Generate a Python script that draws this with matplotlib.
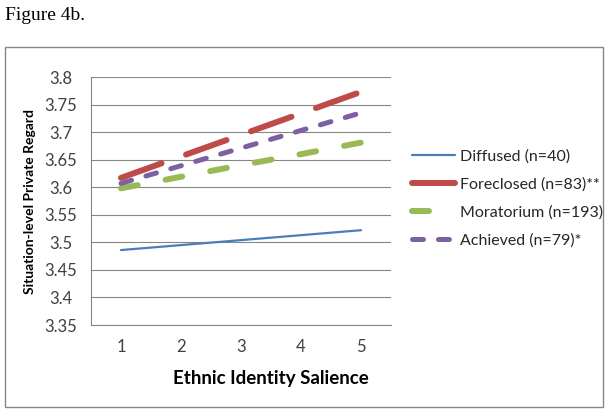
import matplotlib.pyplot as plt
from matplotlib.patches import Rectangle

# data
salience = [1, 2, 3, 4, 5]
diffused = [3.486, 3.495, 3.504, 3.513, 3.522]
foreclosed = [3.617, 3.656, 3.695, 3.734, 3.773]
moratorium = [3.598, 3.619, 3.640, 3.660, 3.681]
achieved = [3.607, 3.639, 3.671, 3.703, 3.735]
y_ticks = [3.35, 3.4, 3.45, 3.5, 3.55, 3.6, 3.65, 3.7, 3.75, 3.8]
y_tick_labels = ["3.35", "3.4", "3.45", "3.5", "3.55", "3.6", "3.65", "3.7", "3.75", "3.8"]

plt.rcParams['font.family'] = ['Lato', 'DejaVu Sans']
plt.rcParams['lines.scale_dashes'] = False

fig = plt.figure(figsize=(6.09, 4.11), dpi=100)

# chart border box
fig.patches.append(Rectangle((5 / 609, 1 - 407 / 411), 598 / 609, 360 / 411,
                             transform=fig.transFigure, fill=False,
                             edgecolor="#868686", linewidth=1.0))
fig.text(5 / 609, 1 - 15 / 411, "Figure 4b.", family="Liberation Serif",
         fontsize=14, va="center", ha="left")

ax = fig.add_axes([91 / 609, 1 - 325 / 411, 300 / 609, 248 / 411])

ax.plot(salience, diffused, color="#4A7EBB", linewidth=1.6,
        solid_capstyle="round", label="Diffused (n=40)")
ax.plot(salience, foreclosed, color="#BE4B48", linewidth=4.3,
        dash_capstyle="round", dashes=(31, 18.7), label="Foreclosed (n=83)**")
ax.plot(salience, moratorium, color="#98B954", linewidth=4.3,
        dash_capstyle="round", dashes=(12.2, 20.5), label="Moratorium (n=193)")
ax.plot(salience, achieved, color="#7D60A0", linewidth=3.6,
        dash_capstyle="round", dashes=(7.9, 10.8), label="Achieved (n=79)*")

ax.set_xlim(0.5, 5.5)
ax.set_ylim(3.35, 3.8)
ax.set_yticks(y_ticks)
ax.set_yticklabels(y_tick_labels, ha="center")
ax.set_xticks(salience)
ax.tick_params(length=0, labelsize=12, colors="#404040")
ax.tick_params(axis="y", pad=22)
ax.tick_params(axis="x", pad=10)

ax.grid(axis="y", color="#868686", linewidth=0.8)
ax.set_axisbelow(True)
for side in ["top", "right"]:
    ax.spines[side].set_visible(False)
for side in ["left", "bottom"]:
    ax.spines[side].set_color("#868686")
    ax.spines[side].set_linewidth(0.8)

ax.set_xlabel("Ethnic Identity Salience", fontsize=13.5, fontweight="bold",
              va="top")
ax.xaxis.set_label_coords(0.6, -0.18)
ax.set_ylabel("Situation-level Private Regard", fontsize=10, fontweight="bold")
ax.yaxis.set_label_coords(-0.183, 0.5)

ax.legend(loc="center left", bbox_to_anchor=(1.07, 0.51), frameon=False,
          fontsize=11.5, handlelength=2.7, handletextpad=0.31,
          labelspacing=0.84, borderpad=0, borderaxespad=0,
          labelcolor="#262626")

fig.savefig("out.png", dpi=100)
